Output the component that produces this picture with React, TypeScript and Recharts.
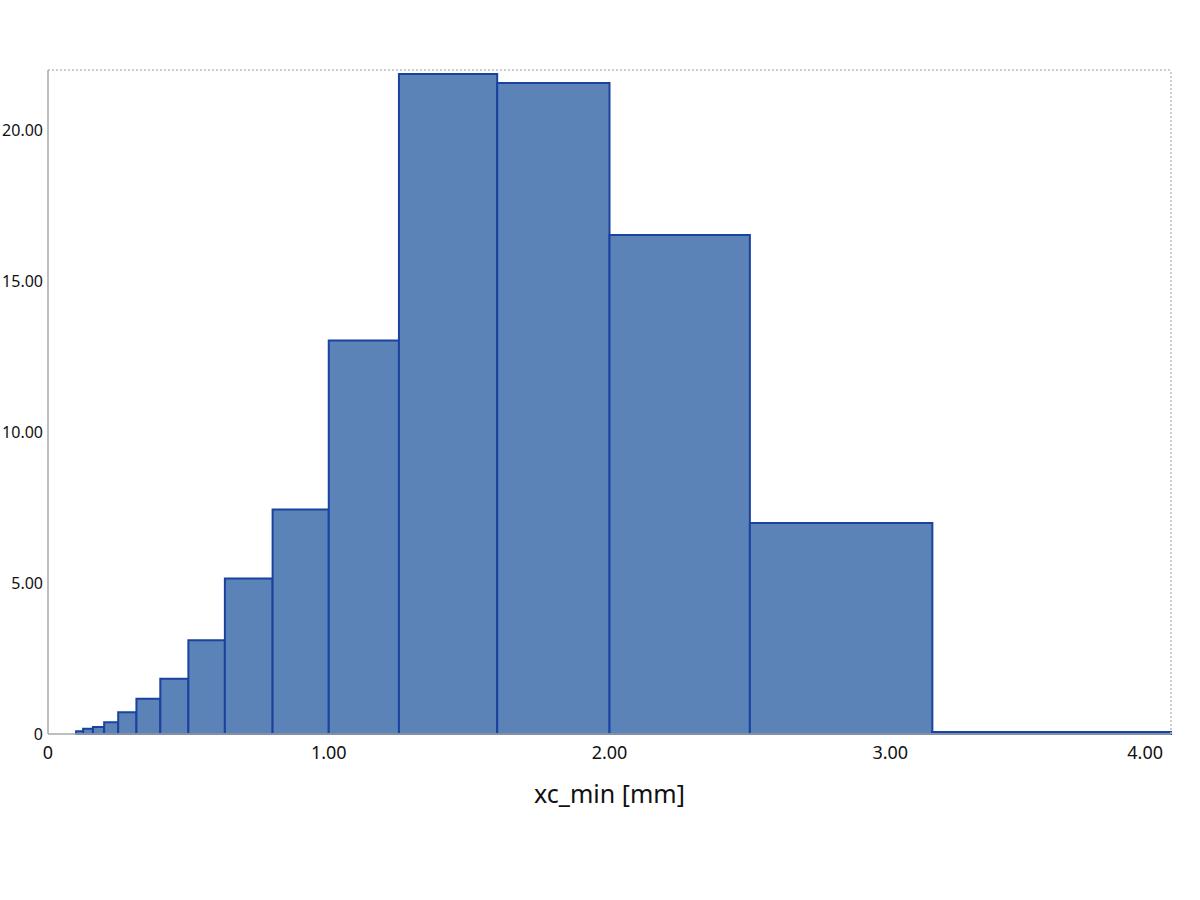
import React from "react";
import {
    ComposedChart,
    XAxis,
    YAxis,
    ReferenceArea,
    ReferenceLine,
} from "recharts";

// bin edges (R10 series, mm) and class heights
const binStart = [0.1, 0.125, 0.16, 0.2, 0.25, 0.315, 0.4, 0.5, 0.63, 0.8, 1.0, 1.25, 1.6, 2.0, 2.5, 3.15];
const binEnd = [0.125, 0.16, 0.2, 0.25, 0.315, 0.4, 0.5, 0.63, 0.8, 1.0, 1.25, 1.6, 2.0, 2.5, 3.15, 4.0];
const binValue = [0.09, 0.17, 0.23, 0.39, 0.72, 1.17, 1.83, 3.11, 5.15, 7.44, 13.04, 21.87, 21.57, 16.53, 6.99, 0.07];

const xTicks = [0, 1, 2, 3, 4];
const yTicks = [0, 5, 10, 15, 20];
const xLabel = "xc_min [mm]";

const bins = binStart.map((s, i) => ({ x0: s, x1: binEnd[i], value: binValue[i] }));

const FONT = "'Noto Sans', 'Open Sans', sans-serif";
const AXIS_GREY = "#a9a9a9";
const BAR_FILL = "#5b83b8";
const BAR_EDGE = "#1a429f";

const fmt = (v: number) => (v === 0 ? "0" : v.toFixed(2));

const XTick = ({ x, y, payload, index }: any) => {
    const last = index === xTicks.length - 1;
    return (
        <text
            x={last ? x - 8 : x}
            y={y}
            dy="0.71em"
            textAnchor={last ? "end" : "middle"}
            fill="#111"
            fontSize={18}
            fontFamily={FONT}
        >
            {fmt(payload.value)}
        </text>
    );
};

export default function App() {
    return (
        <div style={{ position: "absolute", left: 0, top: 0, width: 1200, height: 900, background: "#fff" }}>
            <ComposedChart
                width={1200}
                height={900}
                data={bins}
                margin={{ top: 70, right: 29, left: 0, bottom: 0 }}
            >
                <XAxis
                    type="number"
                    dataKey="x0"
                    domain={[0, 4]}
                    ticks={xTicks}
                    allowDataOverflow
                    height={166}
                    tickSize={0}
                    tickMargin={12}
                    tickLine={false}
                    axisLine={{ stroke: AXIS_GREY, strokeWidth: 1.5 }}
                    tick={<XTick />}
                    label={{
                        value: xLabel,
                        position: "insideTop",
                        offset: 51,
                        fill: "#111",
                        fontSize: 25,
                        fontFamily: FONT,
                    }}
                />
                <YAxis
                    type="number"
                    domain={[0, 22]}
                    ticks={yTicks}
                    allowDataOverflow
                    width={48}
                    tickSize={0}
                    tickMargin={5}
                    tickLine={false}
                    axisLine={{ stroke: AXIS_GREY, strokeWidth: 1.5 }}
                    tickFormatter={fmt}
                    tick={{ fill: "#111", fontSize: 16, fontFamily: FONT }}
                />
                <ReferenceLine y={22} stroke="#bdbdbd" strokeDasharray="2 2" strokeWidth={1.5} />
                <ReferenceLine x={4} stroke="#bdbdbd" strokeDasharray="2 2" strokeWidth={1.5} />
                {bins.map((b, i) => (
                    <ReferenceArea
                        key={i}
                        x1={b.x0}
                        x2={b.x1}
                        y1={0}
                        y2={b.value}
                        fill={BAR_FILL}
                        fillOpacity={1}
                        stroke={BAR_EDGE}
                        strokeWidth={2}
                    />
                ))}
            </ComposedChart>
        </div>
    );
}
